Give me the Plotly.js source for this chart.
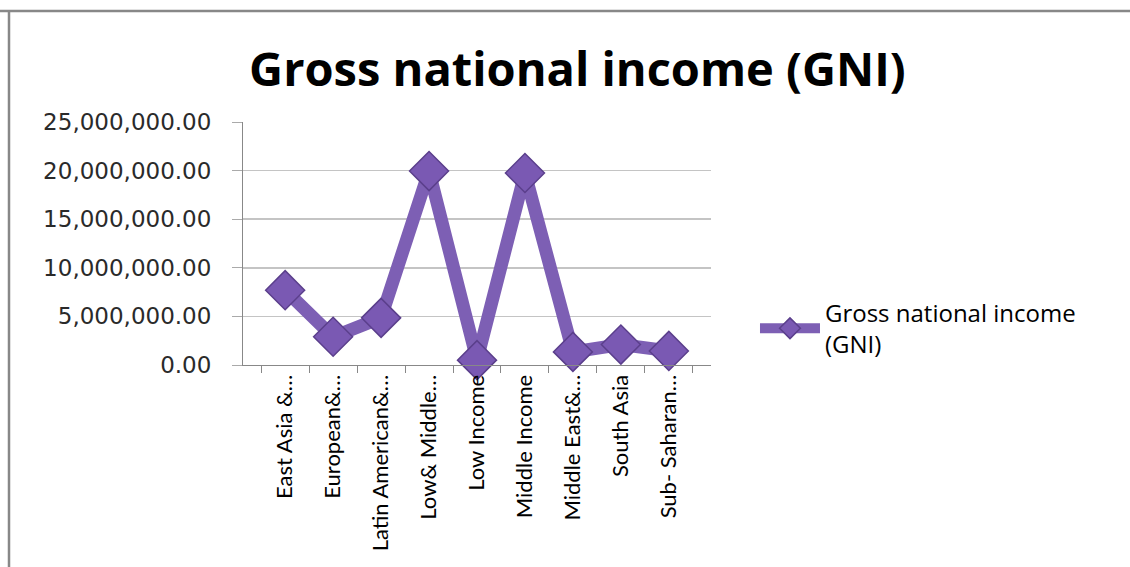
<!DOCTYPE html>
<html>
<head>
<meta charset="utf-8">
<script src="https://cdn.plot.ly/plotly-3.0.1.min.js"></script>
<style>html,body{margin:0;padding:0;background:#fff;}#chart{width:1130px;height:567px;}</style>
</head>
<body>
<div id="chart"></div>
<script>
const categories = ["East Asia &…", "European&…", "Latin American&…", "Low& Middle…", "Low Income", "Middle Income", "Middle East&…", "South Asia", "Sub- Saharan…"];
const gniValues = [7700000, 2900000, 4850000, 19950000, 500000, 19750000, 1350000, 2100000, 1450000];
const seriesName = "Gross national income<br>(GNI)";
const chartTitle = "Gross national income (GNI)";

const trace = {
  x: categories,
  y: gniValues,
  type: 'scatter',
  mode: 'lines+markers',
  name: seriesName,
  line: {color: '#7d5fb4', width: 13},
  marker: {symbol: 'diamond', size: 30, color: '#7a59b3', line: {color: '#5b3f8c', width: 1.5}},
  cliponaxis: false
};

const layout = {
  width: 1130, height: 567,
  margin: {l: 243, r: 419, t: 122, b: 202},
  paper_bgcolor: '#ffffff', plot_bgcolor: '#ffffff',
  showlegend: true,
  title: {text: '<b>' + chartTitle + '</b>', font: {family: '"Open Sans", Lato, sans-serif', size: 47, color: '#000'},
          x: 0.511, xanchor: 'center', xref: 'container', y: 0.878, yanchor: 'middle', yref: 'container'},
  xaxis: {
    type: 'category',
    tickangle: -90,
    tickson: 'boundaries',
    ticks: 'outside', ticklen: 7, tickcolor: '#888',
    showline: true, linecolor: '#888', linewidth: 1,
    showgrid: false,
    tickfont: {family: 'Lato, "Open Sans", sans-serif', size: 22, color: '#000'},
    automargin: false
  },
  yaxis: {
    range: [0, 25000000],
    tickvals: [0, 5000000, 10000000, 15000000, 20000000, 25000000],
    tickformat: ',.2f',
    ticks: 'outside', ticklen: 10, tickcolor: '#aaa',
    ticklabelstandoff: 16,
    showline: true, linecolor: '#888', linewidth: 1,
    showgrid: true, gridcolor: '#c4c4c4', gridwidth: 1.5,
    zeroline: false,
    tickfont: {family: '"DejaVu Sans", Verdana, sans-serif', size: 23, color: '#2a2a2a'},
    automargin: false
  },
  legend: {
    x: 1.094, xanchor: 'left', y: 0.15, yanchor: 'middle',
    font: {family: '"Open Sans", Lato, sans-serif', size: 24, color: '#000'},
    bgcolor: 'rgba(0,0,0,0)', itemwidth: 60
  },
  shapes: [
    {type: 'line', xref: 'paper', yref: 'paper', x0: -243/468, x1: 887/468, y0: (567-11-202)/243, y1: (567-11-202)/243, line: {color: '#888', width: 2.5}},
    {type: 'line', xref: 'paper', yref: 'paper', x0: -234/468, x1: -234/468, y0: -202/243, y1: (567-11-202)/243, line: {color: '#888', width: 2.5}}
  ]
};

Plotly.newPlot('chart', [trace], layout, {displayModeBar: false, staticPlot: true});
</script>
</body>
</html>
